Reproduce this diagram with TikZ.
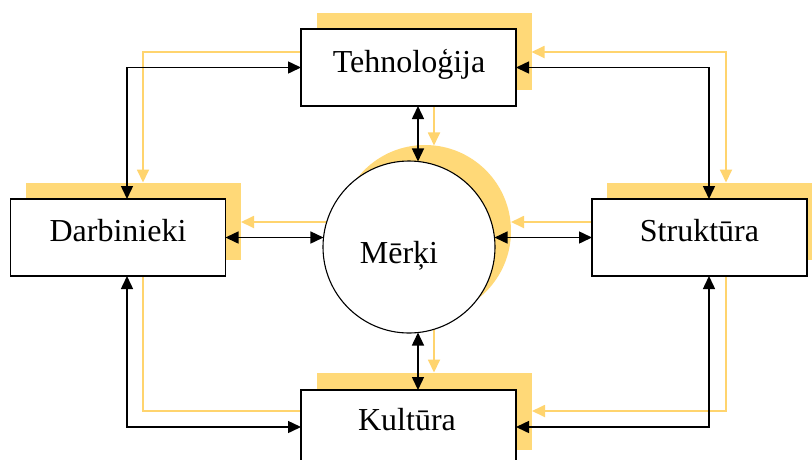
\documentclass[tikz,border=0pt]{standalone}
\usepackage{fontspec}
\setmainfont{Liberation Serif}
\usetikzlibrary{arrows.meta,calc}
\definecolor{shade}{RGB}{255,217,120}
\definecolor{wire}{RGB}{255,212,110}
\begin{document}
\begin{tikzpicture}[x=1pt,y=-1pt,
  box/.style={draw=black, line width=1.7pt, fill=white, minimum width=215pt,
    minimum height=77pt, inner sep=0pt, outer sep=0pt},
  boxshadow/.style={fill=shade, minimum width=215pt, minimum height=77pt,
    inner sep=0pt, outer sep=0pt},
  goal/.style={circle, draw=black, line width=1.1pt, fill=white,
    minimum size=172pt, inner sep=0pt, outer sep=0pt},
  goalshadow/.style={circle, fill=shade, minimum size=172pt, inner sep=0pt,
    outer sep=0pt},
  lbl/.style={anchor=base, font=\fontsize{32}{36}\selectfont, inner sep=0pt},
  link/.style={draw=black, line width=1.5pt,
    {Triangle[length=13pt,width=12pt]}-{Triangle[length=13pt,width=12pt]}},
  feed/.style={draw=wire, line width=1.8pt},
  tip/.style={-{Triangle[length=13pt,width=12pt]}},
  tips/.style={{Triangle[length=13pt,width=12pt]}-{Triangle[length=13pt,width=12pt]}}
]
\clip (0,0) rectangle (812,459);
\fill[white] (0,0) rectangle (812,459);

% drop shadows
\node[boxshadow] (techS) at (424,51) {};
\node[boxshadow] (darbS) at (133.5,221) {};
\node[boxshadow] (strukS) at (714.5,221) {};
\node[boxshadow] (kultS) at (424.5,411) {};
\node[goalshadow] (merkiS) at (425,231) {};

% main shapes (placed first so anchors exist; drawn over the feedback lines below)
\path (408.5,67.5) node[box, draw=none, fill=none] (tech) {}
      (118,237.5) node[box, draw=none, fill=none] (darb) {}
      (699.5,237.5) node[box, draw=none, fill=none] (strukt) {}
      (408.5,428.5) node[box, draw=none, fill=none] (kult) {}
      (409,247) node[goal, draw=none, fill=none] (merki) {};

% helper points for the light feedback lines
\coordinate (mRow) at ($(merki.center)+(0,-25)$);
\coordinate (mCol) at ($(merki.center)+(25,0)$);

% feedback lines (light)
\draw[feed,tip] ($(tech.west)+(0,-15.5)$) -| ($(darbS.north)+(9.5,0)$);
\draw[feed,tips] ($(techS.east)+(0,1)$) -| ($(strukS.north)+(11.5,0)$);
\draw[feed,tip] (tech.south -| mCol) -- (mCol |- merkiS.84);
\draw[feed,tip] (mCol) -- (mCol |- kultS.north);
\draw[feed,tip] (mRow) -- (mRow -| darbS.east);
\draw[feed,tip] (strukt.west |- mRow) -- (mRow -| merkiS.east);
\draw[feed] ($(darb.south)+(25,0)$) |- ($(kult.west)+(0,-17.5)$);
\draw[feed,tip] ($(strukt.south)+(26.5,0)$) |- (kultS.east);

% visible boxes and circle
\node[box] (techB) at (tech) {};
\node[box] (darbB) at (darb) {};
\node[box] (struktB) at (strukt) {};
\node[box] (kultB) at (kult) {};
\node[goal] (merkiB) at (merki) {};

% main links
\draw[link] (tech.west) -| ($(darb.north)+(9,0)$);
\draw[link] (tech.east) -| ($(strukt.north)+(9.5,0)$);
\draw[link] (tech.south -| merki.84) -- (merki.84);
\draw[link] (merki.-84) -- (merki.-84 |- kult.north);
\draw[link] (darb.east) -- (merki.174 |- darb.east);
\draw[link] (merki.6 |- strukt.west) -- (strukt.west);
\draw[link] ($(darb.south)+(9,0)$) |- ($(kult.west)+(0,-1.5)$);
\draw[link] ($(strukt.south)+(9.5,0)$) |- ($(kult.east)+(0,-1.5)$);

% labels
\node[lbl] (techT) at (409,72) {Tehnoloģija};
\node[lbl] (darbT) at (118,241) {Darbinieki};
\node[lbl] (struktT) at (699.5,241) {Struktūra};
\node[lbl] (kultT) at (407,430) {Kultūra};
\node[lbl] (merkiT) at (399,263) {Mērķi};
\end{tikzpicture}
\end{document}
